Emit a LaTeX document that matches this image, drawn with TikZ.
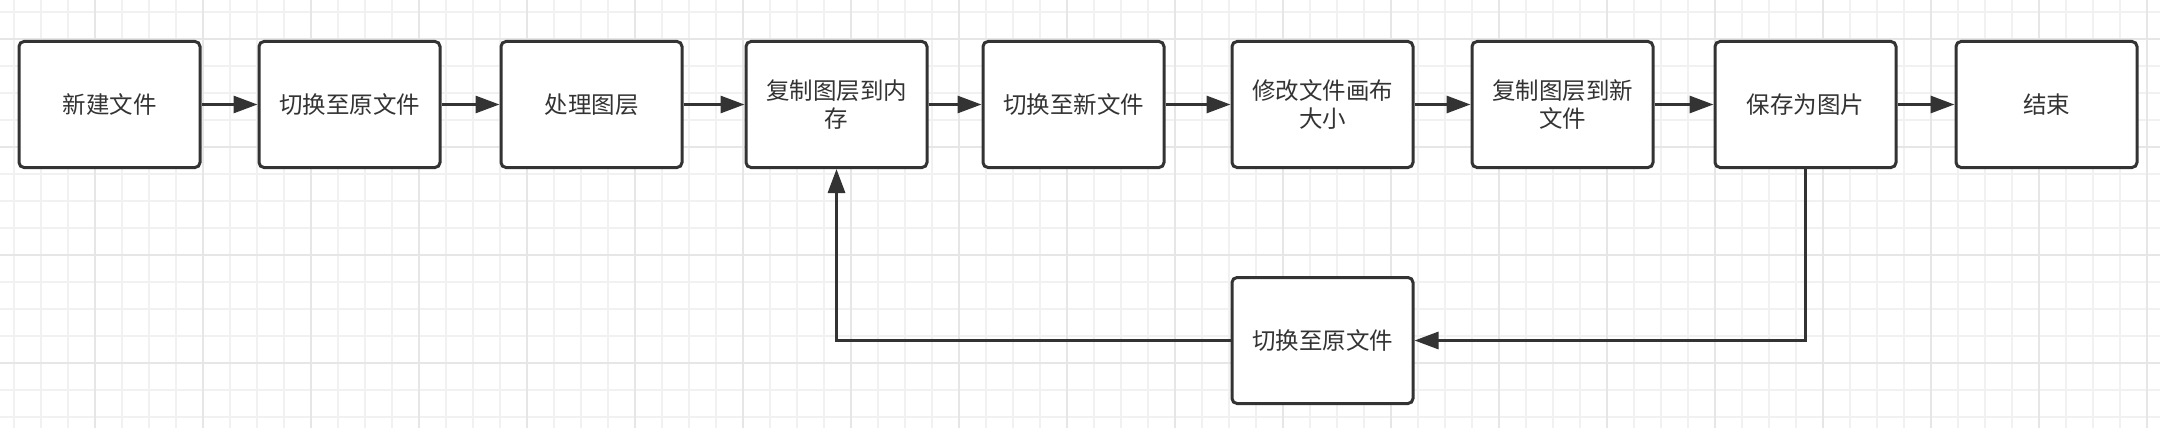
\documentclass[tikz,border=0pt]{standalone}
\usepackage{fontspec}
\newfontfamily\cjk{Noto Sans CJK SC}
\usetikzlibrary{arrows.meta}
\definecolor{ink}{HTML}{333333}
\definecolor{gridminor}{HTML}{F1F1F1}
\definecolor{gridmajor}{HTML}{E6E6E6}
\tikzset{
  stepbox/.style={draw=ink, line width=3pt, rounded corners=5pt, fill=white,
    minimum width=181pt, minimum height=126pt, inner sep=0pt,
    align=center, text=ink, font=\cjk\fontsize{23.5pt}{28pt}\selectfont},
  flow/.style={draw=ink, line width=3pt, -{Triangle[length=24pt,width=17pt]}},
  minorline/.style={draw=gridminor, line width=1.5pt},
  majorline/.style={draw=gridmajor, line width=2pt}
}
\begin{document}
\begin{tikzpicture}[x=1pt,y=-1pt]
\useasboundingbox (0,0) rectangle (2160,428);
\fill[white] (0,0) rectangle (2160,428);
% grid
\foreach \x in {14,41,...,2160} \draw[minorline] (\x,0) -- (\x,428);
\foreach \y in {12,39,...,428} \draw[minorline] (0,\y) -- (2160,\y);
\foreach \x in {95,203,...,2160} \draw[majorline] (\x,0) -- (\x,428);
\foreach \y in {39,147,...,428} \draw[majorline] (0,\y) -- (2160,\y);
% boxes
\node[stepbox] (b1) at (109.5,104.5) {新建文件};
\node[stepbox] (b2) at (349.5,104.5) {切换至原文件};
\node[stepbox] (b3) at (591.5,104.5) {处理图层};
\node[stepbox] (b4) at (836.5,104.5) {复制图层到内\\存};
\node[stepbox] (b5) at (1073.5,104.5) {切换至新文件};
\node[stepbox] (b6) at (1322.5,104.5) {修改文件画布\\大小};
\node[stepbox] (b7) at (1562.5,104.5) {复制图层到新\\文件};
\node[stepbox] (b8) at (1805.5,104.5) {保存为图片};
\node[stepbox] (b9) at (2046.5,104.5) {结束};
\node[stepbox] (b10) at (1322.5,340.5) {切换至原文件};
% connectors
\draw[flow] (b1) -- (b2);
\draw[flow] (b2) -- (b3);
\draw[flow] (b3) -- (b4);
\draw[flow] (b4) -- (b5);
\draw[flow] (b5) -- (b6);
\draw[flow] (b6) -- (b7);
\draw[flow] (b7) -- (b8);
\draw[flow] (b8) -- (b9);
\draw[flow] (b8.south) |- (b10.east);
\draw[flow] (b10.west) -| (b4.south);
\end{tikzpicture}
\end{document}
